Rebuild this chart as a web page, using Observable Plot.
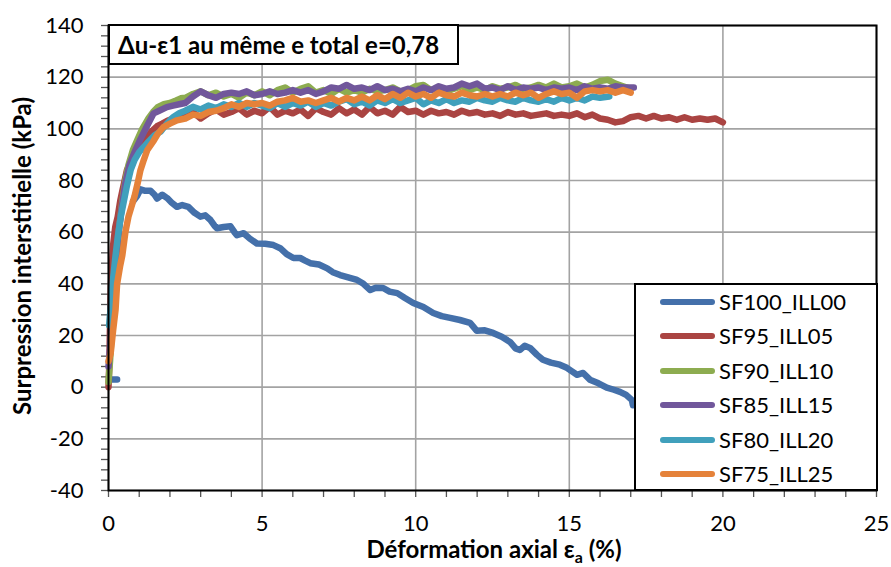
<!DOCTYPE html>
<html>
<head>
<meta charset="utf-8">
<script src="https://cdn.jsdelivr.net/npm/d3@7"></script>
<script src="https://cdn.jsdelivr.net/npm/@observablehq/plot@0.6"></script>
<style>
  html, body { margin: 0; padding: 0; background: #fff; }
  #wrap { position: relative; width: 891px; height: 567px; font-family: Lato, "Open Sans", sans-serif; }
  #title { position: absolute; left: 108px; top: 24px; width: 339px; height: 37px; border: 2px solid #000; background: #fff;
           font-weight: bold; font-size: 24px; line-height: 37px; padding-left: 8px; box-sizing: content-box; white-space: nowrap; }
  #legend { position: absolute; left: 634px; top: 283px; width: 240px; height: 204px; border: 2px solid #000; background: #fff; }
  .li { position: absolute; left: 0; height: 30px; width: 240px; }
  .li .sw { position: absolute; left: 24px; top: 12px; width: 55px; height: 6px; border-radius: 3px; }
  .li .lt { position: absolute; left: 83px; top: 0; font-size: 22px; line-height: 30px; color: #000; }
  #ylab { position: absolute; left: 21px; top: 256px; transform: translate(-50%, -50%) rotate(-90deg); white-space: nowrap;
          font-weight: bold; font-size: 24px; }
  #xlab { position: absolute; left: 494px; top: 550px; transform: translate(-50%, -50%); white-space: nowrap;
          font-weight: bold; font-size: 24px; }
  #xlab sub { font-size: 16px; }
</style>
</head>
<body>
<div id="wrap"></div>
<script>
const titleText = "Δu-ε1 au même e total e=0,78";
const yLabel = "Surpression interstitielle (kPa)";
const xLabelMain = "Déformation axial ε";
const xLabelSub = "a";
const xLabelEnd = " (%)";
const seriesNames = ["SF100_ILL00", "SF95_ILL05", "SF90_ILL10", "SF85_ILL15", "SF80_ILL20", "SF75_ILL25"];
const seriesColors = ["#4470AA", "#AA4442", "#8DAC50", "#71579B", "#40A0BC", "#E5823A"];
const xMajorTicks = [0, 5, 10, 15, 20, 25];
const xMinorTicks = [1,2,3,4,6,7,8,9,11,12,13,14,16,17,18,19,21,22,23,24];
const yMajorTicks = [-40, -20, 0, 20, 40, 60, 80, 100, 120, 140];
const yMinorTicks = [-36,-32,-28,-24,-16,-12,-8,-4,4,8,12,16,24,28,32,36,44,48,52,56,64,68,72,76,84,88,92,96,104,108,112,116,124,128,132,136];

// null y marks a break in the recorded curve
const SF100 = [[0.08,3],[0.28,3],[0.3,null],[0.8,72],[0.93,74],[1.04,76.6],[1.2,76],[1.37,76],[1.5,74.5],[1.58,73],[1.75,74.5],[1.91,73.2],[2.05,71.5],[2.23,69.8],[2.4,70.5],[2.6,69.8],[2.8,67.5],[2.99,66],[3.15,66.5],[3.32,64.7],[3.45,62.5],[3.53,61.5],[3.75,62],[3.97,62.3],[4.1,60],[4.18,58.8],[4.4,59.6],[4.6,57.5],[4.83,55.6],[5.1,55.5],[5.37,55],[5.59,53.8],[5.8,51.5],[6.02,50],[6.24,50],[6.4,49],[6.57,48],[6.85,47.5],[7.12,46],[7.3,44.5],[7.54,43.4],[7.8,42.5],[8.09,41.5],[8.3,40],[8.52,37.6],[8.7,38.5],[8.94,38.4],[9.15,37],[9.4,36.4],[9.65,34.5],[9.92,32.6],[10.25,31],[10.57,28.7],[10.85,27.5],[11.12,26.8],[11.44,26],[11.77,24.9],[11.99,21.8],[12.25,22],[12.52,21],[12.8,19.5],[13.07,17.5],[13.25,15],[13.39,14.4],[13.55,16],[13.72,15.2],[13.95,12.5],[14.14,10.6],[14.4,9.5],[14.69,8.7],[14.92,7.5],[15.1,6],[15.25,4.8],[15.45,5.5],[15.67,2.9],[15.95,1.5],[16.22,-0.2],[16.45,-1],[16.65,-1.8],[16.85,-3],[17.04,-5],[17.07,-7]];

const SF95 = [[0,0],[0.03,10],[0.05,25],[0.08,40],[0.15,55],[0.22,62],[0.3,66],[0.38,72],[0.45,76],[0.6,84],[0.75,88],[0.88,92],[1.05,94],[1.26,97],[1.4,99],[1.58,101],[1.75,102],[1.9,103],[2.1,104],[2.3,104.6],
[2.5,105],[2.75,106.5],[3,104],[3.25,106],[3.5,107.5],[3.75,105.5],[4,106.5],[4.25,108],[4.5,105.5],[4.75,107],[5,106],[5.25,108.5],[5.5,105.5],[5.75,107],[6,106],[6.25,107.5],[6.5,105],[6.75,108],[7,106.5],[7.25,105.5],[7.5,108],[7.75,106],[8,107.5],[8.25,105.5],[8.5,108.5],[8.75,106],[9,107],[9.25,105.5],[9.5,108.5],[9.75,106.5],[10,107],[10.25,105.5],[10.5,107],[10.75,106],[11,106.5],[11.25,105.5],[11.5,107],[11.75,106],[12,106.5],[12.25,105.5],[12.5,106],[12.75,105],[13,106.5],[13.25,105.5],[13.5,106],[13.75,105],[14,105.5],[14.25,106],[14.5,105],[14.75,105.5],[15,105],[15.25,106],[15.5,104.5],[15.75,105.5],[16,104],[16.25,103.5],[16.5,102.5],[16.75,103],[17,104.5],[17.25,105],[17.5,104],[17.75,105],[18,104],[18.25,104.5],[18.5,103.5],[18.75,104.5],[19,103.5],[19.25,104],[19.5,103.5],[19.75,104],[20,102.5]];

const SF90 = [[0,2],[0.05,10],[0.1,20],[0.18,35],[0.27,50],[0.35,62],[0.45,72],[0.55,80],[0.65,86],[0.8,92],[0.95,96],[1.1,100],[1.3,104],[1.45,106.5],[1.6,108.4],[1.8,109.5],[2,110],[2.2,111],[2.35,111.8],
[2.5,112],[2.75,113.5],[3,114.5],[3.25,113],[3.5,114],[3.75,112.5],[4,113.5],[4.25,112],[4.5,114],[4.75,113],[5,114.5],[5.25,113],[5.5,115],[5.75,116],[6,114],[6.25,115.5],[6.5,116.5],[6.75,114],[7,115],[7.25,113.5],[7.5,115.5],[7.75,114],[8,115],[8.25,114],[8.5,115.5],[8.75,114.5],[9,115],[9.25,116],[9.5,114.5],[9.75,115],[10,116.5],[10.25,117],[10.5,115],[10.75,116],[11,114.5],[11.25,115.5],[11.5,116.5],[11.75,115],[12,116],[12.25,115],[12.5,116.5],[12.75,115.5],[13,116],[13.25,117],[13.5,115.5],[13.75,116],[14,117],[14.25,116],[14.5,117.5],[14.75,116],[15,116.5],[15.25,117.5],[15.5,116],[15.75,117],[16,118.5],[16.25,119],[16.5,117.5],[16.75,116.5],[17,115.5]];

const SF85 = [[0,8],[0.05,15],[0.1,25],[0.17,38],[0.25,50],[0.35,62],[0.45,71],[0.55,79],[0.68,86],[0.85,91],[1.04,96],[1.25,101],[1.47,106],[1.65,107],[1.9,108.4],[2.1,109],[2.3,109.5],
[2.5,110],[2.75,112.5],[3,114.5],[3.25,113],[3.5,112],[3.75,113.5],[4,114],[4.25,113.5],[4.5,114.5],[4.75,113],[5,113.5],[5.25,114.5],[5.5,113.5],[5.75,114],[6,115],[6.25,114],[6.5,115],[6.75,113.5],[7,114.5],[7.25,116],[7.5,115.5],[7.75,117],[8,115.5],[8.25,116],[8.5,115],[8.75,116.5],[9,115],[9.25,115.5],[9.5,114.5],[9.75,115.5],[10,114.5],[10.25,116],[10.5,115],[10.75,116.5],[11,115.5],[11.25,116],[11.5,117.5],[11.75,116.5],[12,117.5],[12.25,115.5],[12.5,116],[12.75,115],[13,116.5],[13.25,115],[13.5,116],[13.75,115.5],[14,116],[14.25,115],[14.5,116],[14.75,115.5],[15,116],[15.25,115],[15.5,116.5],[15.75,115.5],[16,116],[16.25,115.5],[16.5,116.5],[16.75,116],[17,116],[17.1,116]];

const SF80 = [[0.02,24],[0.08,32],[0.15,42],[0.22,50],[0.3,58],[0.4,66],[0.5,72],[0.6,78],[0.72,84],[0.85,88],[1,91],[1.15,93],[1.3,95],[1.5,97.5],[1.7,99],[1.9,102],[2.1,104.5],[2.3,106],
[2.5,107],[2.75,108.5],[3,107.5],[3.25,109],[3.5,108],[3.75,109.5],[4,108.5],[4.25,110],[4.5,108.5],[4.75,110],[5,109],[5.25,108],[5.5,110],[5.75,108.5],[6,110],[6.25,109],[6.5,110.5],[6.75,108.5],[7,110],[7.25,109],[7.5,110.5],[7.75,111.5],[8,109.5],[8.25,110.5],[8.5,109],[8.75,111],[9,110],[9.25,111.5],[9.5,110],[9.75,111],[10,112],[10.25,109.5],[10.5,111],[10.75,110],[11,111.5],[11.25,110],[11.5,111],[11.75,110.5],[12,112],[12.25,111],[12.5,110.5],[12.75,112],[13,111],[13.25,110.5],[13.5,112],[13.75,111],[14,110.5],[14.25,111.5],[14.5,110.5],[14.75,112],[15,111],[15.25,112],[15.5,111],[15.75,112.5],[16,112],[16.3,112.5]];

const SF75 = [[0,10],[0.07,13],[0.15,22],[0.23,30],[0.28,40],[0.38,47],[0.45,51],[0.55,60],[0.65,66],[0.75,70],[0.85,74],[0.95,79],[1.04,84],[1.15,88],[1.26,91.7],[1.45,95],[1.6,98],[1.79,100.7],[2,102],[2.23,103.3],
[2.5,104],[2.75,105.5],[3,105],[3.25,106.5],[3.5,107],[3.75,108],[4,109.5],[4.25,108.5],[4.5,110],[4.75,109.5],[5,110],[5.25,109],[5.5,110.5],[5.75,111],[6,112],[6.25,110.5],[6.5,111],[6.75,110],[7,111],[7.25,112],[7.5,110.5],[7.75,112],[8,111],[8.25,112.5],[8.5,111],[8.75,113],[9,111.5],[9.25,113.5],[9.5,112],[9.75,114],[10,112.5],[10.25,113.5],[10.5,112],[10.75,114],[11,113],[11.25,112.5],[11.5,114],[11.75,113],[12,112.5],[12.25,113.5],[12.5,112.5],[12.75,113.5],[13,112.5],[13.25,114],[13.5,113],[13.75,114],[14,112],[14.25,113.5],[14.5,114.5],[14.75,113.5],[15,114],[15.25,112],[15.5,114.5],[15.75,115],[16,114.5],[16.25,115],[16.5,114],[16.75,115],[17,114]];

const allSeries = [SF100, SF95, SF90, SF85, SF80, SF75];

const lineMarks = allSeries.map((s, i) =>
  Plot.line(s, {x: d => d[0], y: d => d[1], stroke: seriesColors[i], strokeWidth: 6.5,
                strokeLinejoin: "round", strokeLinecap: "round"}));

const fmt = d => String(d);
const plot = Plot.plot({
  width: 891, height: 567,
  marginLeft: 108, marginRight: 15, marginTop: 25, marginBottom: 77,
  style: {fontFamily: "Lato, 'Open Sans', sans-serif", fontSize: "22px", color: "#000", background: "#fff", overflow: "visible"},
  x: {domain: [0, 25], label: null},
  y: {domain: [-40, 140], label: null},
  marks: [
    Plot.gridX(xMajorTicks, {stroke: "#a3a3a3", strokeOpacity: 1, strokeWidth: 1.6}),
    Plot.gridY(yMajorTicks, {stroke: "#a3a3a3", strokeOpacity: 1, strokeWidth: 1.6}),
    Plot.axisX(xMinorTicks, {tickSize: 7, tickFormat: () => "", label: null, stroke: "#555", strokeWidth: 1.3}),
    Plot.axisX(xMajorTicks, {tickSize: 7, tickPadding: 18, tickFormat: fmt, label: null, stroke: "#555", strokeWidth: 1.3, fontSize: 22}),
    Plot.axisY(yMinorTicks, {tickSize: 7, tickFormat: () => "", label: null, stroke: "#555", strokeWidth: 1.3}),
    Plot.axisY(yMajorTicks, {tickSize: 7, tickPadding: 18, tickFormat: fmt, label: null, stroke: "#555", strokeWidth: 1.3, fontSize: 22}),
    ...lineMarks,
    Plot.frame({stroke: "#000", strokeWidth: 2})
  ]
});

const wrap = document.getElementById("wrap");
wrap.appendChild(plot);

const title = document.createElement("div");
title.id = "title";
title.textContent = titleText;
wrap.appendChild(title);

const legend = document.createElement("div");
legend.id = "legend";
seriesNames.forEach((n, i) => {
  const li = document.createElement("div");
  li.className = "li";
  li.style.top = (2 + i * 34.4) + "px";
  const sw = document.createElement("div");
  sw.className = "sw";
  sw.style.background = seriesColors[i];
  const lt = document.createElement("div");
  lt.className = "lt";
  lt.textContent = n;
  li.appendChild(sw); li.appendChild(lt);
  legend.appendChild(li);
});
wrap.appendChild(legend);

const yl = document.createElement("div");
yl.id = "ylab";
yl.textContent = yLabel;
wrap.appendChild(yl);

const xl = document.createElement("div");
xl.id = "xlab";
xl.append(xLabelMain);
const sub = document.createElement("sub");
sub.textContent = xLabelSub;
xl.appendChild(sub);
xl.append(xLabelEnd);
wrap.appendChild(xl);
</script>
</body>
</html>
